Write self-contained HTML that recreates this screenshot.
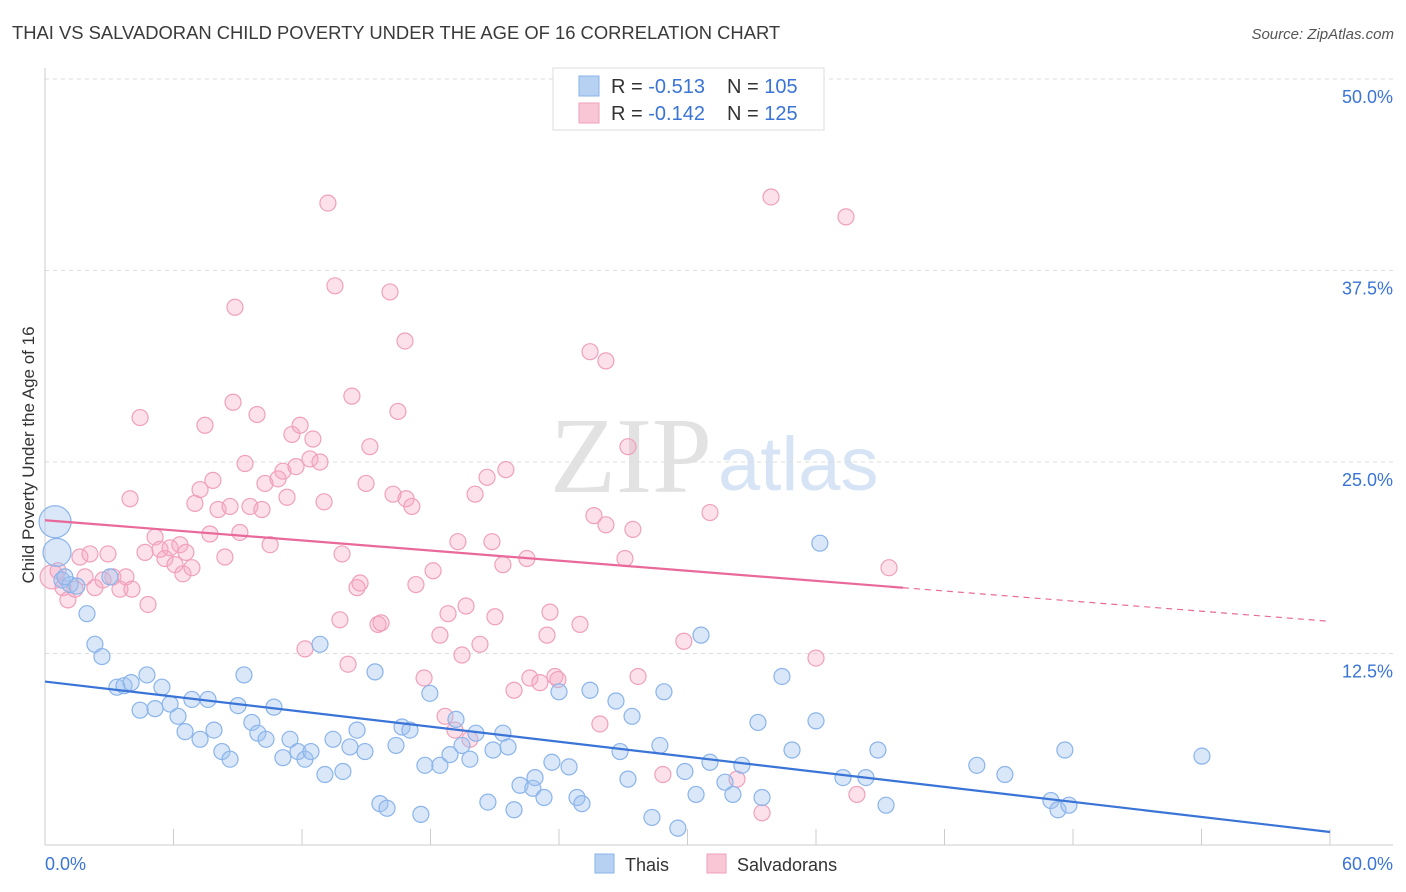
<!DOCTYPE html>
<html><head><meta charset="utf-8"><style>
body{margin:0;background:#fff;font-family:"Liberation Sans",sans-serif;}
#wrap{position:relative;width:1406px;height:892px;overflow:hidden}
</style></head><body><div id="wrap">
<svg id="svg" width="1406" height="892" xmlns="http://www.w3.org/2000/svg">
<text x="12" y="39" font-size="18.4" fill="#3a3a3a">THAI VS SALVADORAN CHILD POVERTY UNDER THE AGE OF 16 CORRELATION CHART</text>
<text x="1394" y="39" font-size="15" fill="#555" font-style="italic" text-anchor="end">Source: ZipAtlas.com</text>
<text x="712" y="492" font-size="108" fill="#e2e2e2" text-anchor="end" font-family="Liberation Serif,serif">ZIP</text>
<text x="718" y="490" font-size="76" fill="#d6e4f5">atlas</text>
<text transform="translate(34,455) rotate(-90)" font-size="17" fill="#333" text-anchor="middle">Child Poverty Under the Age of 16</text>
<g id="grid"></g><g id="pts"></g><g id="lines"></g>
<g>
<rect x="553" y="68" width="271" height="62" fill="#fff" stroke="#ddd"/>
<rect x="579" y="76" width="20" height="20" fill="#b7d1f3" stroke="#8ab4ea"/>
<rect x="579" y="103" width="20" height="20" fill="#f9c6d6" stroke="#f0a0bb"/>
<text x="611" y="93" font-size="20" fill="#333">R = <tspan fill="#3a74d6">-0.513</tspan><tspan x="727">N = </tspan><tspan fill="#3a74d6">105</tspan></text>
<text x="611" y="120" font-size="20" fill="#333">R = <tspan fill="#3a74d6">-0.142</tspan><tspan x="727">N = </tspan><tspan fill="#3a74d6">125</tspan></text>
</g>
<g>
<rect x="595" y="854" width="19" height="19" fill="#b7d1f3" stroke="#8ab4ea"/>
<text x="625" y="871" font-size="18" fill="#333">Thais</text>
<rect x="707" y="854" width="19" height="19" fill="#f9c6d6" stroke="#f0a0bb"/>
<text x="737" y="871" font-size="18" fill="#333">Salvadorans</text>
</g>
</svg>
<script>
const yTicks=[12.5,25,37.5,50];
const yTickLabels=["12.5%","25.0%","37.5%","50.0%"];
const xTicks=[0,6,12,18,24,30,36,42,48,54,60];
const xEndLabels=["0.0%","60.0%"];
const thaiX=[0.47,0.56,0.79,1.17,1.49,0.93,1.96,2.33,2.66,3.03,3.36,3.69,4.02,4.44,4.76,5.14,5.46,5.84,6.21,6.54,6.86,7.24,7.61,7.89,8.26,8.64,9.01,9.29,9.66,9.94,10.32,10.69,11.11,11.44,11.81,12.14,12.42,12.84,13.07,13.45,13.91,14.24,14.57,14.94,15.41,15.64,15.97,16.39,16.67,17.04,17.55,17.74,17.97,18.44,18.91,19.19,19.47,19.84,20.12,20.68,20.92,21.38,21.62,21.90,22.18,22.78,22.88,23.30,23.67,24.00,24.47,24.84,25.07,25.45,26.66,26.85,27.22,27.41,28.34,28.71,28.90,29.55,29.88,30.40,30.63,31.05,31.75,32.12,32.54,33.29,33.48,34.41,34.88,36.00,36.18,37.26,38.33,38.89,39.27,43.51,44.82,46.97,47.30,47.62,47.81,54.02];
const thaiY=[21.1,19.1,17.3,17.0,16.9,17.5,15.1,13.1,12.3,17.5,10.3,10.4,10.6,8.8,11.1,8.9,10.3,9.2,8.4,7.4,9.5,6.9,9.5,7.5,6.1,5.6,9.1,11.1,8.0,7.3,6.9,9.0,5.7,6.9,6.1,5.6,6.1,13.1,4.6,6.9,4.8,6.4,7.5,6.1,11.3,2.7,2.4,6.5,7.7,7.5,2.0,5.2,9.9,5.2,5.9,8.2,6.5,5.6,7.3,2.8,6.2,7.3,6.4,2.3,3.9,3.7,4.4,3.1,5.4,10.0,5.1,3.1,2.7,10.1,9.4,6.1,4.3,8.4,1.8,6.5,10.0,1.1,4.8,3.3,13.7,5.4,4.1,3.3,5.2,8.0,3.1,11.0,6.2,8.1,19.7,4.4,4.4,6.2,2.6,5.2,4.6,2.9,2.3,6.2,2.6,5.8];
const salvX=[0.33,0.61,0.84,1.07,1.40,1.63,1.87,2.10,2.33,2.71,2.94,3.17,3.50,3.78,4.06,4.44,4.81,3.97,4.67,5.14,5.37,5.60,5.84,6.07,6.30,6.44,6.58,6.86,7.00,7.24,7.47,7.70,7.84,8.08,8.40,8.64,8.78,8.87,9.10,9.34,9.57,9.90,10.13,10.27,10.51,10.88,11.11,11.30,11.53,11.72,11.91,12.14,12.37,12.51,12.84,13.03,13.21,13.54,13.77,13.87,14.15,14.33,14.57,14.71,14.99,15.17,15.55,15.69,16.11,16.25,16.48,16.81,16.86,17.13,17.32,17.70,18.12,18.44,18.68,18.82,19.14,19.28,19.47,19.66,19.84,20.08,20.31,20.64,20.87,21.01,21.38,21.52,21.90,22.50,22.64,23.11,23.44,23.58,23.81,23.95,24.98,25.45,25.63,25.91,26.19,26.19,27.08,27.22,27.45,27.69,28.85,29.83,31.05,32.31,33.48,33.90,36.00,37.40,37.91,39.41];
const salvY=[17.5,17.9,16.8,16.0,16.7,18.8,17.5,19.0,16.8,17.3,19.0,17.5,16.7,17.5,16.7,27.9,15.7,22.6,19.1,20.1,19.3,18.7,19.4,18.3,19.6,17.7,19.1,18.1,22.3,23.2,27.4,20.3,23.8,21.9,18.8,22.1,28.9,35.1,20.4,24.9,22.1,28.1,21.9,23.6,19.6,23.9,24.4,22.7,26.8,24.7,27.4,12.8,25.2,26.5,25.0,22.4,41.9,36.5,14.7,19.0,11.8,29.3,16.8,17.1,23.6,26.0,14.4,14.5,36.1,22.9,28.3,32.9,22.6,22.1,17.0,10.9,17.9,13.7,8.4,15.1,7.5,19.8,12.4,15.6,6.9,22.9,13.1,24.0,19.8,14.9,18.3,24.5,10.1,18.7,10.9,10.6,13.7,15.2,11.0,10.8,14.4,32.2,21.5,7.9,20.9,31.6,18.7,26.0,20.6,11.0,4.6,13.3,21.7,4.3,2.1,42.3,12.2,41.0,3.3,18.1];
const thaiTrend=[10.67,0.85];
const salvTrend=[21.2,14.6];
const salvSolidEnd=40.06;

const X0=45,X1=1330,Y0=845,Y50=79;
const sx=v=>X0+(X1-X0)*v/60;
const sy=v=>Y0-(Y0-Y50)*v/50;
const NS="http://www.w3.org/2000/svg";
function mk(t,a,p){const e=document.createElementNS(NS,t);for(const k in a)e.setAttribute(k,a[k]);p.appendChild(e);return e;}
const grid=document.getElementById('grid');
yTicks.forEach((v,i)=>{
 const l=mk('line',{x1:X0,x2:1393,y1:sy(v),y2:sy(v),stroke:'#ddd','stroke-dasharray':'4,4'},grid);
 
 
 const t=mk('text',{x:1393,y:sy(v)+24,'font-size':18,fill:'#3a74d6','text-anchor':'end'},grid);
 t.textContent=yTickLabels[i];
 
 
});
const ax=mk('line',{x1:X0,x2:1393,y1:Y0,y2:Y0,stroke:'#ccc'},grid);


const ay=mk('line',{x1:X0,x2:X0,y1:68,y2:Y0,stroke:'#ccc'},grid);


xTicks.forEach(v=>{
 const l=mk('line',{x1:sx(v),x2:sx(v),y1:Y0,y2:Y0-16,stroke:'#ccc'},grid);
 
 
});
const xl0=mk('text',{x:45,y:870,'font-size':18,fill:'#3a74d6'},grid);xl0.textContent=xEndLabels[0];


const xl1=mk('text',{x:1393,y:870,'font-size':18,fill:'#3a74d6','text-anchor':'end'},grid);xl1.textContent=xEndLabels[1];


const pts=document.getElementById('pts');
salvX.forEach((v,i)=>{
 const c=mk('circle',{cx:sx(v),cy:sy(salvY[i]),r:i===0?12:8,fill:'rgba(246,170,196,0.35)',stroke:'#f0a0bb','stroke-width':1.2},pts);
 
 
});
thaiX.forEach((v,i)=>{
 const c=mk('circle',{cx:sx(v),cy:sy(thaiY[i]),r:i===0?16:(i===1?14:8),fill:'rgba(160,196,240,0.4)',stroke:'#8ab4ea','stroke-width':1.2},pts);
 
 
});
const lines=document.getElementById('lines');
const tl=mk('line',{x1:sx(0),y1:sy(thaiTrend[0]),x2:sx(60),y2:sy(thaiTrend[1]),stroke:'#3a74d6','stroke-width':2.2},lines);


const sAt=v=>salvTrend[0]+(salvTrend[1]-salvTrend[0])*v/60;
const s1=mk('line',{x1:sx(0),y1:sy(sAt(0)),x2:sx(salvSolidEnd),y2:sy(sAt(salvSolidEnd)),stroke:'#e8699a','stroke-width':2.2},lines);


const s2=mk('line',{x1:sx(salvSolidEnd),y1:sy(sAt(salvSolidEnd)),x2:sx(60),y2:sy(sAt(60)),stroke:'#e8699a','stroke-width':1.2,'stroke-dasharray':'6,5'},lines);


</script>
</div></body></html>
